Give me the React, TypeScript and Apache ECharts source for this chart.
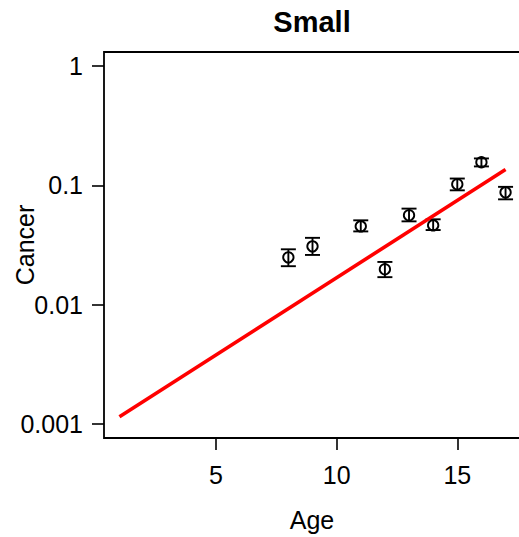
import React, { useEffect, useRef } from "react";
import * as echarts from "echarts";

// Data
const ages = [8, 9, 11, 12, 13, 14, 15, 16, 17];
const cancerRate = [0.0249, 0.0308, 0.0453, 0.0198, 0.0561, 0.0462, 0.102, 0.156, 0.0873];
const lowerBound = [0.021, 0.0261, 0.0411, 0.017, 0.0499, 0.0422, 0.0908, 0.144, 0.0763];
const upperBound = [0.0291, 0.0363, 0.0509, 0.0228, 0.0638, 0.0519, 0.114, 0.168, 0.0971];
const fitAges = [1, 17];
const fitRates = [0.00115, 0.1355];
const xTicks = [5, 10, 15];
const yTicks = [0.001, 0.01, 0.1, 1];

const FONT = "'Liberation Sans', Arial, Helvetica, sans-serif";

export default function App() {
  const ref = useRef<HTMLDivElement>(null);
  useEffect(() => {
    if (!ref.current) return;
    const chart = echarts.init(ref.current, null, { renderer: "svg" });
    const errData = ages.map((a, i) => [a, cancerRate[i], lowerBound[i], upperBound[i]]);
    const fitData = fitAges.map((a, i) => [a, fitRates[i]]);
    chart.setOption({
      animation: false,
      backgroundColor: "#ffffff",
      textStyle: { fontFamily: FONT },
      grid: {
        left: 104,
        top: 52,
        width: 417,
        height: 386,
        show: true,
        borderColor: "#000",
        borderWidth: 1.8,
        backgroundColor: "transparent",
        containLabel: false,
        outerBoundsMode: "none",
      },
      graphic: [
        {
          type: "text",
          x: 312,
          y: 22,
          style: {
            text: "Small",
            fontSize: 29,
            fontWeight: "bold",
            fontFamily: FONT,
            fill: "#000",
            align: "center",
            verticalAlign: "middle",
          },
        },
        {
          type: "text",
          x: 312,
          y: 520,
          style: {
            text: "Age",
            fontSize: 25,
            fontFamily: FONT,
            fill: "#000",
            align: "center",
            verticalAlign: "middle",
          },
        },
        {
          type: "text",
          x: 25,
          y: 245,
          rotation: Math.PI / 2,
          style: {
            text: "Cancer",
            fontSize: 25,
            fontFamily: FONT,
            fill: "#000",
            align: "center",
            verticalAlign: "middle",
          },
        },
      ],
      xAxis: {
        type: "value",
        min: 0.36,
        max: 17.64,
        splitLine: { show: false },
        axisLine: { show: false },
        axisTick: {
          show: true,
          customValues: xTicks,
          length: 12,
          lineStyle: { color: "#000", width: 1.6 },
        },
        axisLabel: {
          customValues: xTicks,
          margin: 24,
          fontSize: 25,
          fontFamily: FONT,
          color: "#000",
        },
      },
      yAxis: {
        type: "log",
        logBase: 10,
        min: 0.000763,
        max: 1.31,
        splitLine: { show: false },
        axisLine: { show: false },
        axisTick: {
          show: true,
          customValues: yTicks,
          length: 12,
          lineStyle: { color: "#000", width: 1.6 },
        },
        axisLabel: {
          customValues: yTicks,
          margin: 21,
          fontSize: 25,
          fontFamily: FONT,
          color: "#000",
          formatter: (v: number) => String(Number(v.toPrecision(3))),
        },
      },
      series: [
        {
          type: "custom",
          data: errData,
          encode: { x: 0, y: [1, 2, 3] },
          renderItem: (params: any, api: any) => {
            const x = api.value(0);
            const c = api.coord([x, api.value(1)]);
            const lo = api.coord([x, api.value(2)]);
            const hi = api.coord([x, api.value(3)]);
            const hw = 7.5;
            const st = { stroke: "#000", lineWidth: 1.9, fill: "none" };
            return {
              type: "group",
              children: [
                { type: "line", shape: { x1: c[0], y1: hi[1], x2: c[0], y2: lo[1] }, style: st },
                { type: "line", shape: { x1: c[0] - hw, y1: hi[1], x2: c[0] + hw, y2: hi[1] }, style: st },
                { type: "line", shape: { x1: c[0] - hw, y1: lo[1], x2: c[0] + hw, y2: lo[1] }, style: st },
                { type: "circle", shape: { cx: c[0], cy: c[1], r: 5.2 }, style: st },
              ],
            };
          },
          z: 2,
        },
        {
          type: "line",
          data: fitData,
          symbol: "none",
          lineStyle: { color: "#ff0000", width: 3.6 },
          z: 3,
        },
      ],
    });
    return () => chart.dispose();
  }, []);
  return (
    <div
      ref={ref}
      style={{ position: "absolute", left: 0, top: 0, width: 519, height: 537 }}
    />
  );
}
